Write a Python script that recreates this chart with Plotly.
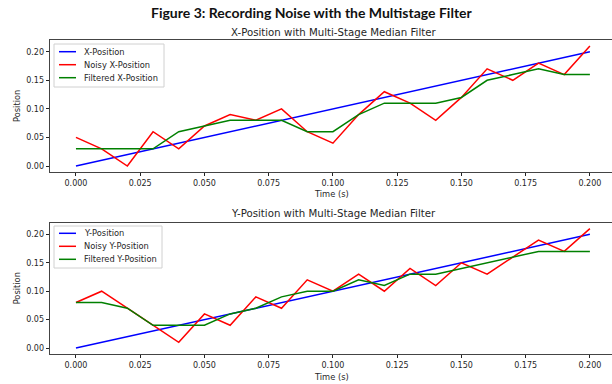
import plotly.graph_objects as go

t = [round(0.01 * i, 2) for i in range(21)]
x_true = [0.00, 0.01, 0.02, 0.03, 0.04, 0.05, 0.06, 0.07, 0.08, 0.09, 0.10,
          0.11, 0.12, 0.13, 0.14, 0.15, 0.16, 0.17, 0.18, 0.19, 0.20]
x_noisy = [0.05, 0.03, 0.00, 0.06, 0.03, 0.07, 0.09, 0.08, 0.10, 0.06, 0.04,
           0.09, 0.13, 0.11, 0.08, 0.12, 0.17, 0.15, 0.18, 0.16, 0.21]
x_filt = [0.03, 0.03, 0.03, 0.03, 0.06, 0.07, 0.08, 0.08, 0.08, 0.06, 0.06,
          0.09, 0.11, 0.11, 0.11, 0.12, 0.15, 0.16, 0.17, 0.16, 0.16]
y_true = x_true
y_noisy = [0.08, 0.10, 0.07, 0.04, 0.01, 0.06, 0.04, 0.09, 0.07, 0.12, 0.10,
           0.13, 0.10, 0.14, 0.11, 0.15, 0.13, 0.16, 0.19, 0.17, 0.21]
y_filt = [0.08, 0.08, 0.07, 0.04, 0.04, 0.04, 0.06, 0.07, 0.09, 0.10, 0.10,
          0.12, 0.11, 0.13, 0.13, 0.14, 0.15, 0.16, 0.17, 0.17, 0.17]

tick_vals_x = [0.0, 0.025, 0.05, 0.075, 0.1, 0.125, 0.15, 0.175, 0.2]
tick_text_x = ["0.000", "0.025", "0.050", "0.075", "0.100", "0.125", "0.150", "0.175", "0.200"]
tick_vals_y = [0.0, 0.05, 0.1, 0.15, 0.2]
tick_text_y = ["0.00", "0.05", "0.10", "0.15", "0.20"]

W, H = 612, 384
BLUE, RED, GREEN = "#0000ff", "#ff0000", "#008000"
FONT = "DejaVu Sans"
TXT = "#262626"

def px(x):
    return x / W

def py(y):
    return 1 - y / H

fig = go.Figure()
shapes = []
annotations = []

panels = [
    dict(xa="x", ya="y", tr=x_true, no=x_noisy, fi=x_filt, lab="X",
         top=40, bot=172, title_y=32, xtitle_y=193.5,
         box=(54, 44, 164, 87), rows=(51.7, 64.7, 77.7)),
    dict(xa="x2", ya="y2", tr=y_true, no=y_noisy, fi=y_filt, lab="Y",
         top=222.7, bot=354, title_y=213, xtitle_y=376.5,
         box=(54, 226, 162, 268), rows=(233.3, 246.3, 259.3)),
]

xr = [-0.0101, 0.2086]
yr = [-0.0105, 0.2205]
axis_common = dict(showgrid=False, zeroline=False, ticks="outside", ticklen=3.5,
                   tickwidth=0.8, tickcolor="#222", showline=True, linecolor="#444",
                   linewidth=0.8, automargin=False,
                   tickfont=dict(family=FONT, size=8, color=TXT))

layout_axes = {}
for i, p in enumerate(panels):
    lab = p["lab"]
    names = [f"{lab}-Position", f"Noisy {lab}-Position", f"Filtered {lab}-Position"]
    colors = [BLUE, RED, GREEN]
    for vals, name, col in zip([p["tr"], p["no"], p["fi"]], names, colors):
        fig.add_trace(go.Scatter(x=t, y=vals, mode="lines", name=name, showlegend=False,
                                 line=dict(color=col, width=1.5), xaxis=p["xa"], yaxis=p["ya"]))
    dom = [py(p["bot"]), py(p["top"])]
    sfx = "" if i == 0 else str(i + 1)
    layout_axes["xaxis" + sfx] = dict(domain=[50 / W, 1.0], range=xr, anchor="y" + sfx,
                                      tickvals=tick_vals_x, ticktext=tick_text_x,
                                      mirror=True, **axis_common)
    layout_axes["yaxis" + sfx] = dict(domain=dom, range=yr, anchor="x" + sfx,
                                      tickvals=tick_vals_y, ticktext=tick_text_y,
                                      mirror=False, **axis_common)
    annotations.append(dict(text=f"{lab}-Position with Multi-Stage Median Filter",
                            x=px(333), y=py(p["title_y"]), xref="paper", yref="paper",
                            showarrow=False, xanchor="center", yanchor="middle",
                            font=dict(family=FONT, size=10.2, color=TXT)))
    annotations.append(dict(text="Time (s)", x=px(331), y=py(p["xtitle_y"]), xref="paper",
                            yref="paper", showarrow=False, xanchor="center", yanchor="middle",
                            font=dict(family=FONT, size=8.3, color=TXT)))
    annotations.append(dict(text="Position", x=px(17), y=py((p["top"] + p["bot"]) / 2),
                            xref="paper", yref="paper", showarrow=False, textangle=-90,
                            xanchor="center", yanchor="middle",
                            font=dict(family=FONT, size=8.3, color=TXT)))
    x0, y0, x1, y1 = p["box"]
    shapes.append(dict(type="rect", xref="paper", yref="paper", x0=px(x0), x1=px(x1),
                       y0=py(y1), y1=py(y0), line=dict(color="#d0d0d0", width=1),
                       fillcolor="rgba(255,255,255,0.8)", layer="above"))
    for ry, name, col in zip(p["rows"], names, colors):
        shapes.append(dict(type="line", xref="paper", yref="paper", x0=px(59), x1=px(76),
                           y0=py(ry), y1=py(ry), line=dict(color=col, width=1.5), layer="above"))
        annotations.append(dict(text=name, x=px(82), y=py(ry), xref="paper", yref="paper",
                                showarrow=False, xanchor="left", yanchor="middle",
                                font=dict(family=FONT, size=8.3, color=TXT)))

annotations.append(dict(text="<b>Figure 3: Recording Noise with the Multistage Filter</b>",
                        x=px(312), y=py(12), xref="paper", yref="paper", showarrow=False,
                        xanchor="center", yanchor="middle",
                        font=dict(family="Lato", size=14, color="#111")))

fig.update_layout(
    width=W, height=H, margin=dict(l=0, r=0, t=0, b=0),
    paper_bgcolor="white", plot_bgcolor="white", showlegend=False,
    shapes=shapes, annotations=annotations, **layout_axes,
)

fig.write_html("out.html", config={"displayModeBar": False},
               post_script="document.body.style.margin='0';document.body.style.overflow='hidden';")
